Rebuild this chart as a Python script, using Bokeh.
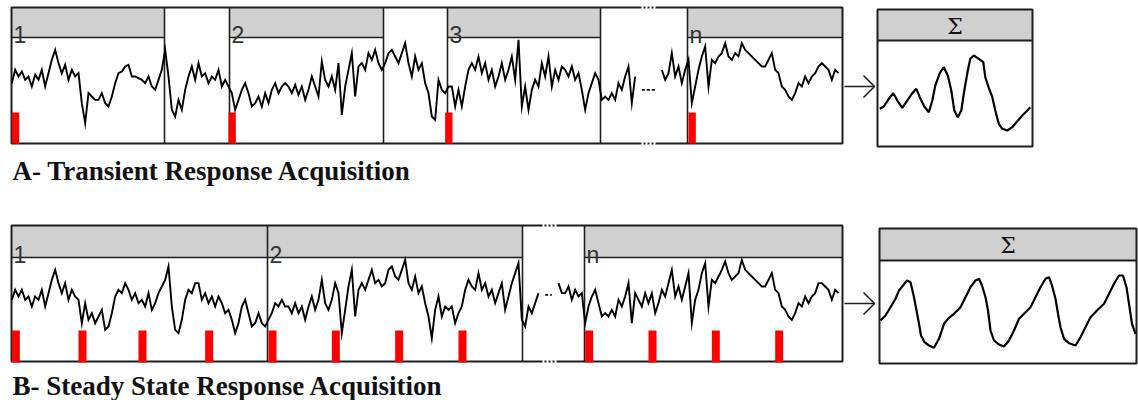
import numpy as np
from bokeh.plotting import figure
from bokeh.models import Range1d
from bokeh.embed import file_html
from bokeh.resources import INLINE
from bokeh.core.properties import value

# ------------------------------------------------------------------ data
# Panel A - single-trial EEG (arbitrary units, positive = up), one value per sample
EEG_A = [
    160, 200, 180, 195, 170, 180, 150, 185, 170, 200,
    150, 190, 230, 260, 220, 190, 215, 170, 200, 180,
    190, 100, 40, 130, 120, 110, 110, 130, 100, 90,
    120, 160, 190, 195, 210, 215, 180, 180, 175, 170,
    160, 180, 150, 140, 170, 200, 260, 180, 80, 60,
    110, 80, 140, 180, 210, 170, 220, 180, 190, 160,
    180, 170, 200, 150, 170, 150, 130, 80, 110, 140,
    160, 130, 90, 100, 120, 90, 130, 100, 140, 160,
    130, 150, 160,
    150, 130, 155, 125, 150, 110, 140, 180, 150, 120,
    225, 170, 150, 180, 140, 220, 65, 150, 200, 250,
    120, 210, 220, 200, 250, 230, 260, 220, 200, 220,
    250, 260, 240, 220, 250, 280, 220, 180, 240, 200,
    220, 160, 130, 60, 50, 170, 140, 130, 150, 150,
    90, 140, 90, 150, 200, 220, 200, 240, 190, 220,
    170, 200, 150, 180, 220, 170, 200, 240, 170, 290,
    90, 150, 80, 140, 170, 150, 220, 180, 240, 150,
    200, 170, 210,
    200, 180, 210, 170, 190, 140, 80, 130, 160, 190,
    170, 110, 120, 110, 130, 110, 160, 140, 180, 210,
    100, 180, 170, 140, 140, 140, 140, 140, 120, 200,
    170, 190, 250, 180, 210, 160, 200, 230, 100, 150,
    200, 240, 270, 150, 230, 220, 240, 250, 280, 240,
    230, 250, 240, 280, 260, 250, 240, 230, 220, 210,
    210, 230, 250, 200, 190, 150, 140, 120, 110, 130,
    160, 150, 180, 160, 180, 190, 210, 220, 210, 200,
    170, 200, 190,
]
EEG_A_BREAK = (188, 194)          # omitted epochs ("...")
STIM_A = [0, 65, 130, 203]        # stimulus onsets (sample index)
EPOCHS_A = ["1", "2", "3", "n"]

# Panel B - same recording, periodic stimulation
EEG_B = [
    170, 200, 180, 200, 170, 180, 150, 180, 170, 200,
    150, 190, 230, 260, 220, 190, 220, 170, 200, 180,
    170, 100, 160, 110, 130, 100, 120, 140, 80, 90,
    130, 180, 200, 190, 220, 200, 170, 190, 160, 170,
    150, 190, 140, 160, 190, 210, 230, 270, 150, 80,
    70, 110, 170, 200, 190, 220, 220, 170, 190, 160,
    180, 150, 180, 160, 130, 140, 110, 70, 100, 150,
    170, 130, 90, 100, 130, 100, 90, 110, 130, 160,
    150, 170, 150,
    150, 130, 160, 130, 150, 110, 150, 180, 140, 170,
    230, 160, 140, 170, 220, 190, 70, 140, 210, 260,
    120, 200, 220, 200, 230, 260, 220, 230, 210, 220,
    260, 270, 240, 230, 260, 290, 220, 200, 240, 190,
    210, 160, 120, 55, 140, 180, 120, 150, 140, 150,
    100, 130, 150, 200, 230, 210, 200, 250, 200, 220,
    180, 200, 160, 190, 220, 140, 180, 220, 250, 280,
    110, 90, 150, 130, 160, 190, 185, 185, 185, 185,
    185, 220, 190,
    190, 210, 170, 200, 180, 190, 100, 150, 180, 200,
    160, 120, 130, 120, 140, 120, 170, 150, 180, 220,
    100, 190, 170, 150, 190, 160, 190, 130, 160, 200,
    180, 220, 260, 180, 210, 170, 210, 250, 100, 170,
    200, 250, 280, 150, 230, 220, 240, 260, 285, 250,
    230, 240, 250, 290, 260, 250, 240, 230, 220, 210,
    210, 230, 250, 200, 190, 150, 140, 120, 110, 130,
    160, 150, 180, 160, 180, 190, 220, 220, 210, 200,
    170, 200, 190,
]
EEG_B_BREAK = (159, 163)
STIM_B = [0, 20, 38, 58, 77, 96, 115, 134, 172, 191, 210, 229]
EPOCHS_B = ["1", "2", "n"]

# Averaged responses (time in ms, amplitude arbitrary)
SUM_A_T = [0, 8, 18, 27, 35, 45, 55, 65, 73, 80, 89, 98, 105, 111, 120, 128, 136,
           143, 149, 156, 163, 169, 176, 181, 188, 198, 207, 211, 218, 225, 231,
           238, 245, 255, 265, 275, 285, 295, 301]
SUM_A_V = [11.7, 14, 21.7, 27.3, 20, 12.7, 20, 27.3, 31.7, 23.3, 14, 8.3, 20, 35,
           47.3, 53.3, 45, 30, 10, 3.3, 10, 30, 50, 61.7, 65, 61.7, 58.3, 43.3,
           32.7, 23.3, 10, -3.3, -8.3, -10, -6.7, -0.7, 5, 10, 13.3]
SUM_B_T = [0, 10, 20, 30, 37, 45, 53, 60, 67, 72, 77, 81, 88, 97, 107, 117, 127,
           137, 147, 160, 170, 180, 190, 197, 203, 210, 215, 220, 227, 237, 247,
           257, 267, 277, 287, 300, 310, 320, 330, 337, 343, 350, 355, 360, 367,
           377, 390, 400, 410, 420, 433, 447, 457, 467, 477, 485, 492, 498, 503, 510]
SUM_B_V = [20, 25, 33.3, 41.7, 50, 55, 60, 58.3, 43.3, 30, 16.7, 5, -1.7, -5, -7.3,
           1.7, 16.7, 22.7, 26.7, 33.3, 43.3, 53.3, 60, 61.7, 55, 43.3, 30, 10, 0,
           -4, -6, 0, 10, 21.7, 26.7, 33.3, 43.3, 53.3, 61.7, 63.3, 55, 41.7, 26.7,
           13.3, 1.7, -2.7, -5, 3.3, 13.3, 23.3, 30, 36.7, 46.7, 56.7, 65, 65,
           53.3, 33.3, 16.7, 6.7]

TITLE_A = "A- Transient Response Acquisition"
TITLE_B = "B- Steady State Response Acquisition"
SUM_LABEL = "\u03a3"

# ------------------------------------------------------------------ layout
W, H = 1138, 400
GRAY = "#d0d0d0"
DARK = "#1e1e1e"

ROW_A = dict(left=11, right=842, top=7, head=37, bottom=143,
             dividers=[164, 229, 383, 447, 600, 687],
             headers=[(11, 164), (229, 383), (447, 600), (687, 842)],
             brk=(641, 655), stim=(112, 143), arrow_y=86)
ROW_B = dict(left=11, right=842, top=225, head=257, bottom=361,
             dividers=[267, 522, 584],
             headers=[(11, 267), (267, 522), (584, 842)],
             brk=(542, 556), stim=(330, 362), arrow_y=303)
SUMBOX_A = dict(left=877, right=1032, top=9, head=40, bottom=146)
SUMBOX_B = dict(left=879, right=1136, top=228, head=260, bottom=363)

p = figure(width=W, height=H, x_range=Range1d(0, W), y_range=Range1d(H, 0),
           output_backend="svg", toolbar_location=None, min_border=0,
           x_axis_location=None, y_axis_location=None)
p.grid.visible = False
p.outline_line_color = None
p.background_fill_color = "white"
p.border_fill_color = "white"

# sample axis shared by both traces: sample i at pixel X0 + DX*i
X0, DX = 11.33, 10 / 3
p.extra_x_ranges["eeg"] = Range1d((0 - X0) / DX, (W - X0) / DX)
# amplitude axes for the two rows (pixel = base - v/3)
p.extra_y_ranges["ya"] = Range1d(3 * (136 - H), 3 * 136)
p.extra_y_ranges["yb"] = Range1d(3 * (356 - H), 3 * 356)
# averaged-response axes (pixel = x0 + t/2 ; pixel = base - v)
p.extra_x_ranges["sa"] = Range1d(2 * (0 - 879.3), 2 * (W - 879.3))
p.extra_y_ranges["sa"] = Range1d(120 - H, 120)
p.extra_x_ranges["sb"] = Range1d(2 * (0 - 880), 2 * (W - 880))
p.extra_y_ranges["sb"] = Range1d(340 - H, 340)


def draw_row(r, labels, eeg, brk, stim, yname, bar_w):
    hl = [h[0] for h in r["headers"]]
    hr = [h[1] for h in r["headers"]]
    n = len(hl)
    p.quad(left=hl, right=hr, top=[r["top"]] * n, bottom=[r["head"]] * n,
           fill_color=GRAY, line_color=None)
    p.segment(x0=hl, y0=[r["head"]] * n, x1=hr, y1=[r["head"]] * n,
              line_color=DARK, line_width=1.6)
    d = r["dividers"]
    p.segment(x0=d, y0=[r["top"]] * len(d), x1=d, y1=[r["bottom"]] * len(d),
              line_color=DARK, line_width=1.6)
    p.quad(left=[r["left"]], right=[r["right"]], top=[r["top"]], bottom=[r["bottom"]],
           fill_color=None, line_color=DARK, line_width=2)
    b0, b1 = r["brk"]
    p.segment(x0=[b0, b0], y0=[r["top"], r["bottom"]], x1=[b1, b1],
              y1=[r["top"], r["bottom"]], line_color="white", line_width=3,
              line_dash="2 2")
    p.text(x=[h + 2 for h in hl], y=[r["head"] - 3] * n, text=labels,
           text_font=value("Liberation Sans"), text_font_size="23px",
           text_color="#333333", text_baseline="alphabetic")
    # trace
    v = np.array(eeg, dtype=float)
    idx = np.arange(len(v))
    solid = v.copy()
    solid[brk[0]:brk[1] + 1] = np.nan
    dotted = np.full(len(v), np.nan)
    dotted[brk[0] + 1:brk[1]] = v[brk[0] + 1:brk[1]]
    p.line(idx, solid, x_range_name="eeg", y_range_name=yname,
           line_color="black", line_width=1.9, line_join="miter")
    p.line(idx, dotted, x_range_name="eeg", y_range_name=yname,
           line_color="black", line_width=1.6, line_dash="3 2")
    # stimulus markers
    s0, s1 = r["stim"]
    p.vbar(x=[s + bar_w / 2 for s in stim], width=bar_w, top=s0, bottom=s1,
           x_range_name="eeg", fill_color="#ff0000", line_color=None)
    # arrow
    ay = r["arrow_y"]
    p.multi_line(xs=[[844, 874], [863, 874, 863]], ys=[[ay, ay], [ay - 11, ay, ay + 11]],
                 line_color=DARK, line_width=1.5)


def draw_sum(b, t, v, name):
    p.quad(left=[b["left"]], right=[b["right"]], top=[b["top"]], bottom=[b["head"]],
           fill_color=GRAY, line_color=None)
    p.segment(x0=[b["left"]], y0=[b["head"]], x1=[b["right"]], y1=[b["head"]],
              line_color=DARK, line_width=2)
    p.quad(left=[b["left"]], right=[b["right"]], top=[b["top"]], bottom=[b["bottom"]],
           fill_color=None, line_color=DARK, line_width=2)
    p.text(x=[(b["left"] + b["right"]) / 2], y=[(b["top"] + b["head"]) / 2 + 1],
           text=[SUM_LABEL], text_font=value("DejaVu Serif"), text_font_size="22px",
           text_color="#111111", text_align="center", text_baseline="middle")
    p.line(t, v, x_range_name=name, y_range_name=name, line_color="black",
           line_width=2.2)


draw_row(ROW_A, EPOCHS_A, EEG_A, EEG_A_BREAK, STIM_A, "ya", 2.2)
draw_row(ROW_B, EPOCHS_B, EEG_B, EEG_B_BREAK, STIM_B, "yb", 2.4)
draw_sum(SUMBOX_A, SUM_A_T, SUM_A_V, "sa")
draw_sum(SUMBOX_B, SUM_B_T, SUM_B_V, "sb")

p.text(x=[12, 12], y=[170, 385], text=[TITLE_A, TITLE_B],
       text_font=value("Liberation Serif"), text_font_style="bold",
       text_font_size="27px", text_color="#111111", text_baseline="alphabetic")

open("out.html", "w").write(file_html(p, INLINE, title="Transient vs steady state acquisition"))
